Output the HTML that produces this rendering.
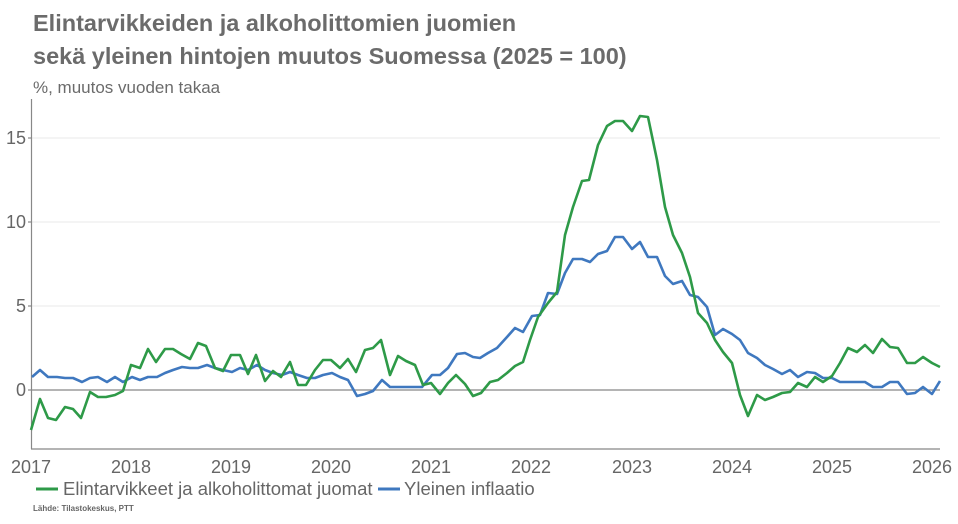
<!DOCTYPE html>
<html><head><meta charset="utf-8"><style>
body{margin:0;background:#fff;width:958px;height:519px;overflow:hidden;font-family:"Liberation Sans",sans-serif}
</style></head><body>
<svg width="958" height="519" xmlns="http://www.w3.org/2000/svg" font-family="Liberation Sans, sans-serif">
<text x="33" y="31" font-size="23.5" font-weight="bold" fill="#6b6b6b">Elintarvikkeiden ja alkoholittomien juomien</text>
<text x="33" y="64" font-size="23.5" font-weight="bold" fill="#6b6b6b">sekä yleinen hintojen muutos Suomessa (2025 = 100)</text>
<text x="33" y="93" font-size="17" fill="#6b6b6b">%, muutos vuoden takaa</text>
<g stroke="#eeeeee" stroke-width="1.2">
<line x1="31" y1="306" x2="940" y2="306"/><line x1="31" y1="222" x2="940" y2="222"/><line x1="31" y1="138" x2="940" y2="138"/>
</g>
<line x1="31" y1="390" x2="940" y2="390" stroke="#888" stroke-width="1.2"/>
<line x1="31.5" y1="99" x2="31.5" y2="449" stroke="#888" stroke-width="1.2"/>
<line x1="31" y1="449" x2="940" y2="449" stroke="#888" stroke-width="1.2"/>
<g stroke="#888" stroke-width="1.2"><line x1="28" y1="138" x2="31" y2="138"/><line x1="28" y1="222" x2="31" y2="222"/><line x1="28" y1="306" x2="31" y2="306"/><line x1="28" y1="390" x2="31" y2="390"/></g>
<g font-size="18" fill="#666" text-anchor="end">
<text x="26" y="144">15</text><text x="26" y="228">10</text><text x="26" y="312">5</text><text x="26" y="396">0</text>
</g>
<g font-size="18" fill="#666" text-anchor="middle">
<text x="31" y="473">2017</text><text x="131" y="473">2018</text><text x="231" y="473">2019</text><text x="331" y="473">2020</text><text x="431" y="473">2021</text><text x="531" y="473">2022</text><text x="632" y="473">2023</text><text x="732" y="473">2024</text><text x="832" y="473">2025</text><text x="932" y="473">2026</text>
</g>
<polyline fill="none" stroke="#3f78bf" stroke-width="2.6" stroke-linejoin="round" points="32,377 40,370 48,377 57,377 65,378 73,378 82,382 90,378 98,377 107,382 115,377 123,382 132,377 140,380 148,377 157,377 165,373 173,370 182,367 190,368 198,368 207,365 215,368 223,370 232,372 240,368 248,370 257,365 265,370 273,373 282,375 290,372 298,375 307,378 315,378 323,375 332,373 340,377 348,380 357,396 365,394 373,391 382,380 390,387 398,387 406,387 414,387 422,387 432,375 440,375 448,368 457,354 465,353 473,357 480,358 488,353 497,348 507,337 515,328 523,332 532,316 540,315 548,293 557,294 565,273 573,259 582,259 590,262 598,254 607,251 615,237 623,237 632,249 640,242 648,257 657,257 665,276 673,284 682,281 690,295 698,297 707,307 715,335 723,329 732,334 740,340 748,353 757,358 765,365 773,369 782,374 790,370 798,377 807,372 815,373 823,378 832,378 840,382 848,382 857,382 865,382 873,387 882,387 890,382 898,382 907,394 915,393 923,387 932,394 940,381"/>
<polyline fill="none" stroke="#2e9a48" stroke-width="2.6" stroke-linejoin="round" points="31,430 40,399 48,418 56,420 65,407 73,409 81,418 90,392 98,397 106,397 115,395 123,391 131,365 140,368 148,349 156,362 165,349 173,349 181,354 190,359 198,343 206,346 215,368 223,371 231,355 240,355 248,374 256,355 265,381 273,371 281,377 290,362 298,385 306,385 315,370 323,360 331,360 340,368 348,359 356,372 365,350 373,348 381,340 390,375 398,356 406,361 415,365 423,385 431,383 440,394 448,383 456,375 465,384 473,396 481,393 490,382 498,380 507,373 515,366 523,362 530,340 538,317 548,303 557,292 565,235 573,207 582,181 589,180 598,145 607,126 615,121 623,121 632,131 640,116 648,117 657,160 665,207 673,235 682,253 690,277 698,313 707,323 715,340 723,352 732,363 740,395 748,416 757,395 765,400 773,397 782,393 790,392 798,383 807,387 815,377 823,382 832,376 840,363 848,348 857,352 865,345 873,353 882,339 890,347 898,348 907,363 915,363 923,357 932,363 940,367"/>
<line x1="36" y1="489" x2="58" y2="489" stroke="#2e9a48" stroke-width="3"/>
<text x="63" y="495" font-size="18.5" fill="#666">Elintarvikkeet ja alkoholittomat juomat</text>
<line x1="378" y1="489" x2="400" y2="489" stroke="#3f78bf" stroke-width="3"/>
<text x="404" y="495" font-size="18.5" fill="#666">Yleinen inflaatio</text>
<text x="33" y="511" font-size="8" font-weight="bold" fill="#666">Lähde: Tilastokeskus, PTT</text>
</svg>
</body></html>
